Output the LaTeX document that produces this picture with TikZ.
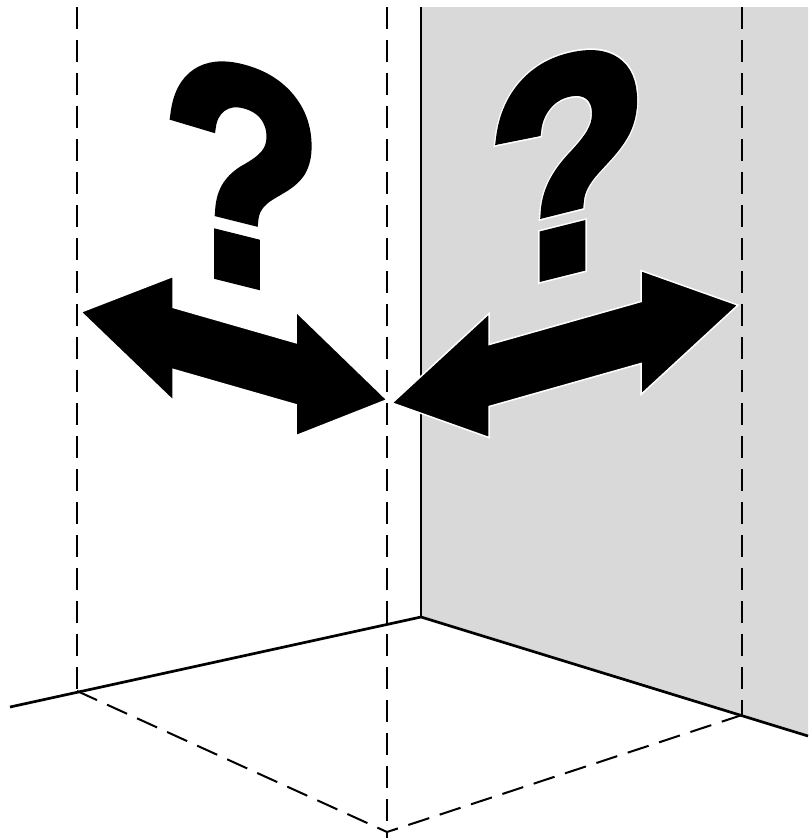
\documentclass[tikz,border=0pt]{standalone}
\usepackage{fontspec}
\newfontfamily\qfont{Liberation Sans Bold}[FakeBold=3.5]
\newfontfamily\qrimfont{Liberation Sans Bold}[FakeBold=4.6]
\definecolor{wallgray}{RGB}{217,217,217}
\tikzset{
  guideline/.style={line width=2pt,dash pattern=on 22pt off 11pt},
  wallline/.style={line width=2.7pt},
  bigarrow/.style={fill=black,draw=white,line width=1.5pt,line join=miter},
  qmark/.style={font={\qfont\fontsize{280}{280}\selectfont},inner sep=0pt,anchor=base,transform shape},
  qrim/.style={font={\qrimfont\fontsize{280}{280}\selectfont},text=white,inner sep=0pt,anchor=base,transform shape}
}
\begin{document}
\begin{tikzpicture}[x=1pt,y=-1pt]
\useasboundingbox (0,0) rectangle (811,838);
\fill[wallgray] (421,7) -- (808,7) -- (808,736) -- (421,617) -- cycle;
\draw[guideline] (77,7) -- (77,691);
\draw[guideline] (387,7) -- (387,838);
\draw[guideline] (742,7) -- (742,715);
\draw[guideline] (77,691) -- (387,832) -- (742,715);
\draw[wallline] (421,7) -- (421,617);
\draw[wallline] (10,707) -- (421,617) -- (808,736);
\begin{scope}[shift={(81,312)},yslant=-0.287]
\filldraw[bigarrow] (0,0) -- (92,-62) -- (92,-31) -- (215,-31) -- (215,-62) -- (306,0)
  -- (215,62) -- (215,31) -- (92,31) -- (92,62) -- cycle;
\end{scope}
\begin{scope}[shift={(392,403)},yslant=0.283]
\filldraw[bigarrow] (0,0) -- (97,-62) -- (97,-31) -- (249,-31) -- (249,-62) -- (346,0)
  -- (249,62) -- (249,31) -- (97,31) -- (97,62) -- cycle;
\end{scope}
\begin{scope}[shift={(242.5,286)},yslant=-0.25,xscale=0.93,yscale=1.08]
\node[qrim] (qleftrim) at (0,-5) {?};
\node[qmark] (qleft) at (0,-5) {?};
\end{scope}
\begin{scope}[shift={(568,275)},yslant=0.25,xscale=0.93,yscale=1.08]
\node[qrim] (qrightrim) at (0,-5) {?};
\node[qmark] (qright) at (0,-5) {?};
\end{scope}
\end{tikzpicture}
\end{document}
